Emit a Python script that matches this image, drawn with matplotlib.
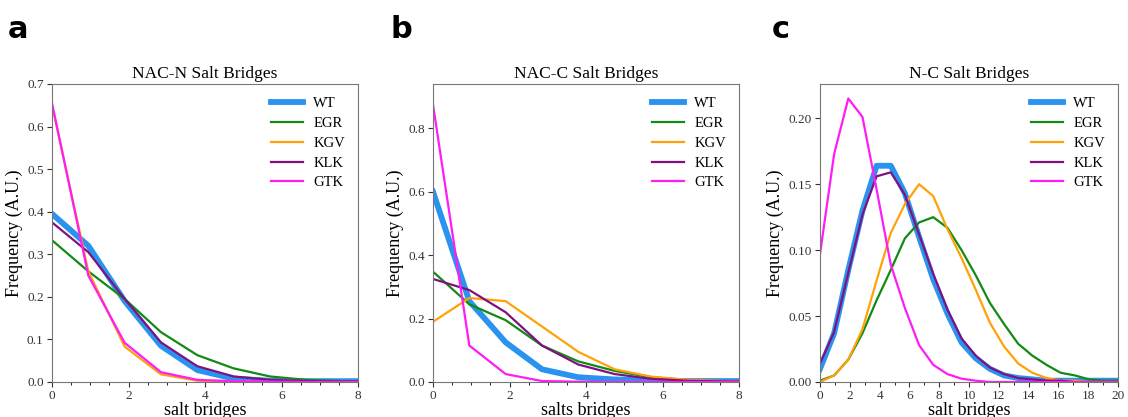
import matplotlib
matplotlib.use("Agg")
import matplotlib.pyplot as plt
from matplotlib.ticker import MultipleLocator

plt.rcParams['font.family'] = ['Liberation Serif', 'DejaVu Serif']

labels = ['WT', 'EGR', 'KGV', 'KLK', 'GTK']
colors = ['#2a93f0', '#138a13', '#ffa20a', '#80127f', '#ff1cf5']
widths = [4.2, 1.6, 1.6, 1.6, 1.6]

# bin positions (salt bridge counts)
x_short = [0, 0.95, 1.9, 2.85, 3.8, 4.75, 5.7, 6.65, 7.6, 8.55]
x_long = [0, 0.95, 1.9, 2.85, 3.8, 4.75, 5.7, 6.65, 7.6, 8.55, 9.5,
          10.45, 11.4, 12.35, 13.3, 14.25, 15.2, 16.15, 17.1, 18.05, 19.0, 19.95]

# a: NAC-N salt bridges
nacn_wt = [0.395, 0.32, 0.19, 0.085, 0.028, 0.008, 0.003, 0.002, 0.002, 0.002]
nacn_egr = [0.333, 0.26, 0.195, 0.117, 0.063, 0.032, 0.013, 0.005, 0.002, 0.001]
nacn_kgv = [0.65, 0.26, 0.083, 0.018, 0.003, 0.001, 0.0, 0.0, 0.0, 0.0]
nacn_klk = [0.375, 0.305, 0.195, 0.093, 0.037, 0.013, 0.005, 0.002, 0.001, 0.001]
nacn_gtk = [0.655, 0.25, 0.092, 0.023, 0.005, 0.002, 0.001, 0.0, 0.0, 0.0]

# b: NAC-C salt bridges
nacc_wt = [0.60, 0.255, 0.125, 0.04, 0.015, 0.008, 0.005, 0.003, 0.003, 0.003]
nacc_egr = [0.348, 0.245, 0.195, 0.115, 0.065, 0.035, 0.015, 0.006, 0.003, 0.002]
nacc_kgv = [0.19, 0.265, 0.255, 0.175, 0.095, 0.04, 0.017, 0.007, 0.003, 0.002]
nacc_klk = [0.325, 0.29, 0.22, 0.115, 0.055, 0.025, 0.01, 0.004, 0.002, 0.001]
nacc_gtk = [0.875, 0.115, 0.025, 0.003, 0.001, 0.0, 0.0, 0.0, 0.0, 0.0]

# c: N-C salt bridges
nc_wt = [0.01, 0.037, 0.085, 0.13, 0.164, 0.164, 0.143, 0.11, 0.078, 0.052, 0.03,
         0.018, 0.01, 0.005, 0.003, 0.002, 0.001, 0.001, 0.001, 0.001, 0.001, 0.001]
nc_egr = [0.001, 0.005, 0.017, 0.037, 0.062, 0.085, 0.109, 0.121, 0.125, 0.117, 0.1,
          0.081, 0.06, 0.044, 0.029, 0.02, 0.013, 0.007, 0.005, 0.002, 0.001, 0.001]
nc_kgv = [0.0, 0.005, 0.017, 0.04, 0.077, 0.113, 0.135, 0.15, 0.141, 0.116, 0.094,
          0.07, 0.045, 0.027, 0.014, 0.007, 0.003, 0.001, 0.001, 0.0, 0.0, 0.0]
nc_klk = [0.014, 0.038, 0.083, 0.127, 0.156, 0.159, 0.142, 0.112, 0.082, 0.055, 0.033,
          0.02, 0.011, 0.006, 0.003, 0.002, 0.001, 0.001, 0.0, 0.0, 0.0, 0.0]
nc_gtk = [0.097, 0.173, 0.215, 0.201, 0.146, 0.089, 0.056, 0.028, 0.013, 0.006, 0.0025,
          0.001, 0.0, 0.0, 0.0, 0.0, 0.0, 0.0, 0.0, 0.0, 0.0, 0.0]

panels = [
    ('a', 'NAC-N Salt Bridges', 'salt bridges', x_short,
     [nacn_wt, nacn_egr, nacn_kgv, nacn_klk, nacn_gtk], 8, 0.7, 0.1, 0.5),
    ('b', 'NAC-C Salt Bridges', 'salts bridges', x_short,
     [nacc_wt, nacc_egr, nacc_kgv, nacc_klk, nacc_gtk], 8, 0.94, 0.2, 0.5),
    ('c', 'N-C Salt Bridges', 'salt bridges', x_long,
     [nc_wt, nc_egr, nc_kgv, nc_klk, nc_gtk], 20, 0.226, 0.05, 1),
]

fig = plt.figure(figsize=(11.28, 4.17), dpi=100)
lefts = [52, 433, 820]
rights = [358, 739, 1118]
W, H = 1128, 417
letter_x = [8, 390, 772]

for i, (letter, title, xlabel, xs, series, xmax, ymax, ystep, xminor) in enumerate(panels):
    ax = fig.add_axes([lefts[i] / W, (H - 382) / H, (rights[i] - lefts[i]) / W, (382 - 84) / H])
    for ys, lab, c, lw in zip(series, labels, colors, widths):
        ax.plot(xs, ys, color=c, lw=lw, label=lab)
    ax.set_xlim(0, xmax)
    ax.set_ylim(0, ymax)
    ax.yaxis.set_major_locator(MultipleLocator(ystep))
    ax.xaxis.set_minor_locator(MultipleLocator(xminor))
    if i == 2:
        ax.xaxis.set_major_locator(MultipleLocator(2))
        ax.yaxis.set_major_formatter(matplotlib.ticker.FormatStrFormatter('%.2f'))
    ax.tick_params(labelsize=9.5, length=3.5, width=0.8, colors='#333333', pad=2.5)
    ax.tick_params(which='minor', length=2)
    for s in ax.spines.values():
        s.set_color('#777777')
    ax.set_title(title, fontsize=12.5, pad=4)
    ax.set_xlabel(xlabel, fontsize=13, labelpad=0)
    ax.set_ylabel('Frequency (A.U.)', fontsize=13, labelpad=3)
    ax.legend(frameon=False, fontsize=10.5, loc='upper right', handlelength=2.2,
              handletextpad=0.7, labelspacing=0.45, borderaxespad=0.5)
    fig.text(letter_x[i] / W, 1 - 38 / H, letter, fontsize=22, fontweight='bold',
             family='DejaVu Sans')

fig.savefig('out.png', dpi=100)
